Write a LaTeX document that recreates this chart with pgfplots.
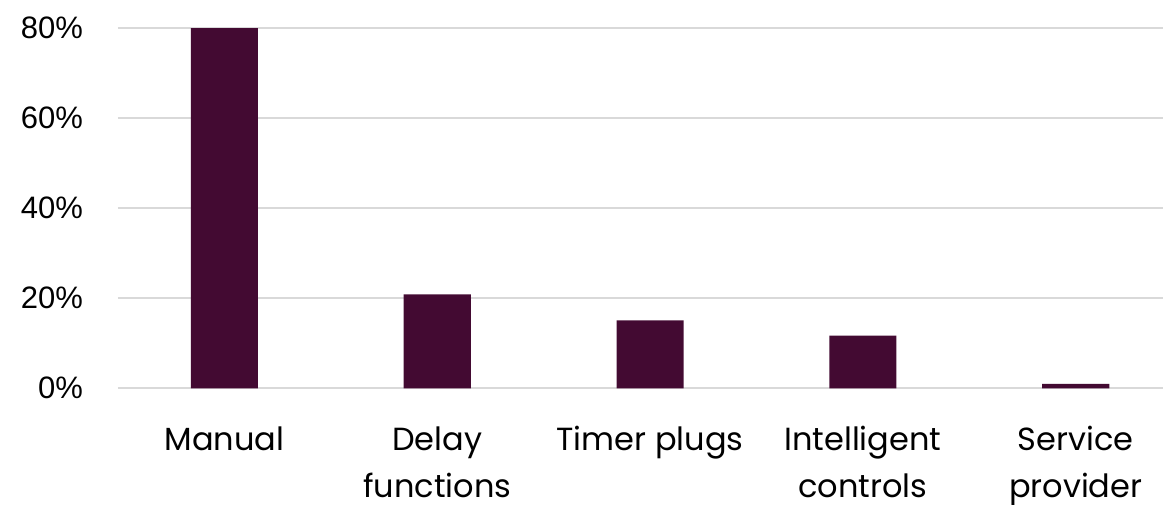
\documentclass[border=0pt]{standalone}
\usepackage{fontspec}
\setmainfont{Poppins}
\newfontfamily\arialfont{Liberation Sans}
\usepackage{pgfplots}
\pgfplotsset{compat=1.18}
\definecolor{barcol}{HTML}{430A32}
\definecolor{gridcol}{HTML}{D9D9D9}
\begin{document}
\begin{tikzpicture}
\useasboundingbox (-59pt,-57.85pt) rectangle (522.5pt,194.15pt);
\begin{axis}[
  at={(0,0)},anchor=south west,
  scale only axis,
  width=522.5pt,height=180.15pt,
  xmin=-0.5,xmax=4.41,ymin=0,ymax=80,
  axis line style={draw=none},
  ymajorgrids,
  grid style={line width=1pt,draw=gridcol},
  ytick={0,20,40,60,80},
  yticklabel={\pgfmathprintnumber{\tick}\%},
  xtick={0,1,2,3,4},
  xticklabels={Manual,Delay\\functions,Timer plugs,Intelligent\\controls,Service\\provider},
  major tick length=0pt,
  /pgf/number format/assume math mode=true,
  xticklabel style={font=\fontsize{16pt}{23.5pt}\selectfont,align=center,anchor=north,yshift=-15.5pt},
  yticklabel style={font=\arialfont\fontsize{15.5pt}{18pt}\selectfont,anchor=east,xshift=-14pt},
  clip=false]
\addplot[ybar,bar width=0.315,fill=barcol,draw=none]
  coordinates{(0,80)(1,20.85)(2,15.1)(3,11.7)(4,1.0)};
\end{axis}
\end{tikzpicture}
\end{document}
